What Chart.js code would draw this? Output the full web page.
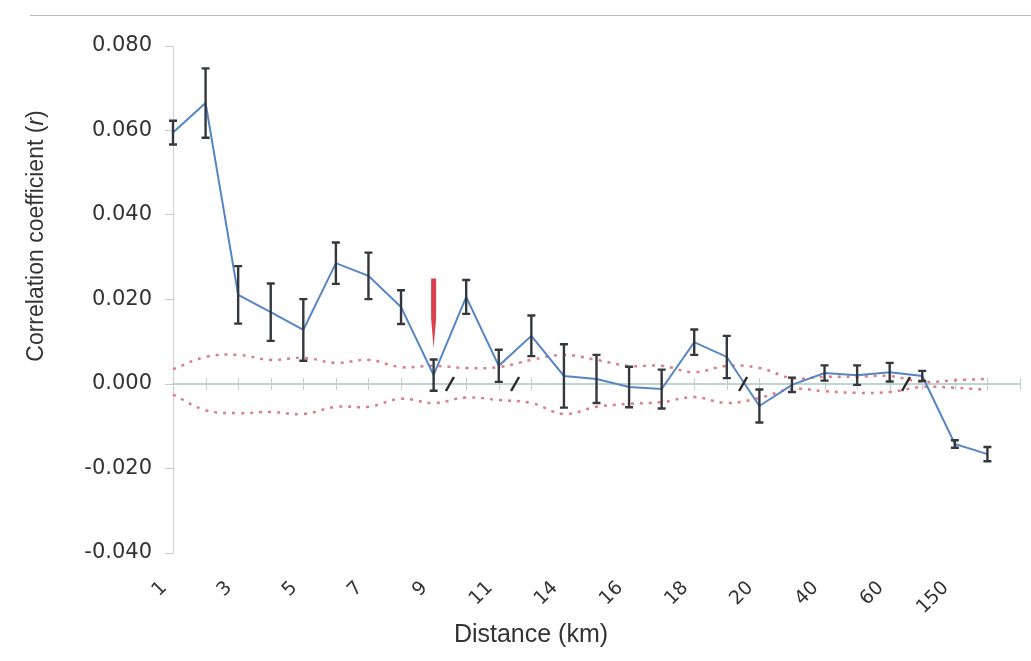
<!DOCTYPE html>
<html>
<head>
<meta charset="utf-8">
<script src="https://cdn.jsdelivr.net/npm/chart.js@4.4.1/dist/chart.umd.min.js"></script>
<style>
  html, body { margin: 0; padding: 0; background: #fff; }
  #wrap { width: 1031px; height: 661px; position: relative; }
</style>
</head>
<body>
<div id="wrap"><canvas id="myChart"></canvas></div>
<script>
// distance classes (km), only every other one gets a label on the axis
const distanceLabels = ['1', '2', '3', '4', '5', '6', '7', '8', '9', '10', '11', '12', '14', '15', '16', '17', '18', '19', '20', '30', '40', '50', '60', '100', '150', '200', ''];

// mean correlation coefficient r per distance class
const meanR = [0.0595, 0.0665, 0.0211, 0.0170, 0.0128, 0.0286, 0.0256, 0.0182, 0.0021, 0.0206, 0.0043, 0.0114, 0.0019, 0.0012, -0.0007, -0.0012, 0.0099, 0.0064, -0.0052, -0.0002, 0.0026, 0.0021, 0.0028, 0.0019, -0.0142, -0.0166];

// error bar half-length
const errR = [0.0028, 0.0082, 0.0068, 0.0068, 0.0073, 0.0049, 0.0055, 0.0040, 0.0037, 0.0040, 0.0038, 0.0048, 0.0075, 0.0057, 0.0048, 0.0046, 0.0030, 0.0050, 0.0039, 0.0017, 0.0018, 0.0023, 0.0022, 0.0012, 0.0009, 0.0017];

// permutation confidence envelope (red dotted lines)
const upperCI = [0.0035, 0.0064, 0.0069, 0.0057, 0.0062, 0.0050, 0.0057, 0.0040, 0.0043, 0.0038, 0.0040, 0.0057, 0.0069, 0.0057, 0.0043, 0.0043, 0.0028, 0.0043, 0.0038, 0.0014, 0.0017, 0.0017, 0.0019, 0.0005, 0.0009, 0.0012];
const lowerCI = [-0.0025, -0.0062, -0.0069, -0.0066, -0.0071, -0.0054, -0.0054, -0.0035, -0.0045, -0.0032, -0.0038, -0.0045, -0.0071, -0.0054, -0.0047, -0.0043, -0.0031, -0.0045, -0.0033, -0.0012, -0.0017, -0.0021, -0.0019, -0.0007, -0.0009, -0.0014];

// axis breaks (between category indices) and the red arrow
const breakPositions = [8.5, 10.5, 17.5, 22.5];
const arrowIndex = 8;
const arrowTop = 0.025;
const arrowNeck = 0.0155;
const arrowTip = 0.0085;

const yMin = -0.04;
const yMax = 0.08;
const yStep = 0.02;

const yTitleParts = ['Correlation coefficient (', 'r', ')'];
const xTitle = 'Distance (km)';

// zero line, axis ticks on it, error bars, breaks, arrow, axis titles
const extrasPlugin = {
    id: 'extras',
    beforeDraw(chart) {
        const ctx = chart.ctx;
        ctx.save();
        ctx.fillStyle = '#fff';
        ctx.fillRect(0, 0, chart.width, chart.height);
        ctx.strokeStyle = '#bdbdbd';
        ctx.lineWidth = 1;
        ctx.beginPath();
        ctx.moveTo(30, 15.5);
        ctx.lineTo(chart.width, 15.5);
        ctx.stroke();
        ctx.restore();
    },
    beforeDatasetsDraw(chart) {
        const ctx = chart.ctx;
        const x = chart.scales.x;
        const y = chart.scales.y;
        const y0 = y.getPixelForValue(0);
        ctx.save();
        ctx.strokeStyle = '#a9c9c1';
        ctx.lineWidth = 1.5;
        ctx.beginPath();
        ctx.moveTo(chart.chartArea.left, y0);
        ctx.lineTo(chart.chartArea.right, y0);
        ctx.stroke();
        ctx.strokeStyle = '#c3caca';
        ctx.lineWidth = 1;
        for (let i = 0; i < distanceLabels.length; i++) {
            const px = Math.round(x.getPixelForValue(i)) + 0.5;
            ctx.beginPath();
            ctx.moveTo(px, y0 - 6);
            ctx.lineTo(px, y0 + 6);
            ctx.stroke();
        }
        ctx.restore();
    },
    afterDatasetsDraw(chart) {
        const ctx = chart.ctx;
        const x = chart.scales.x;
        const y = chart.scales.y;
        ctx.save();
        // error bars
        ctx.strokeStyle = '#33383f';
        ctx.lineWidth = 2.4;
        for (let i = 0; i < meanR.length; i++) {
            const px = x.getPixelForValue(i);
            const top = y.getPixelForValue(meanR[i] + errR[i]);
            const bot = y.getPixelForValue(meanR[i] - errR[i]);
            ctx.beginPath();
            ctx.moveTo(px, top);
            ctx.lineTo(px, bot);
            ctx.moveTo(px - 4, top);
            ctx.lineTo(px + 4, top);
            ctx.moveTo(px - 4, bot);
            ctx.lineTo(px + 4, bot);
            ctx.stroke();
        }
        // axis break marks
        const y0 = y.getPixelForValue(0);
        ctx.strokeStyle = '#2b2b2b';
        ctx.lineWidth = 2.5;
        breakPositions.forEach(b => {
            const px = x.getPixelForValue(b);
            ctx.beginPath();
            ctx.moveTo(px - 4, y0 + 7);
            ctx.lineTo(px + 4, y0 - 7);
            ctx.stroke();
        });
        // red arrow
        const ax = x.getPixelForValue(arrowIndex);
        const aTop = y.getPixelForValue(arrowTop);
        const aNeck = y.getPixelForValue(arrowNeck);
        const aTip = y.getPixelForValue(arrowTip);
        ctx.fillStyle = '#d8414d';
        ctx.beginPath();
        ctx.moveTo(ax - 2.5, aTop);
        ctx.lineTo(ax + 2.5, aTop);
        ctx.lineTo(ax + 2.5, aNeck);
        ctx.lineTo(ax, aTip);
        ctx.lineTo(ax - 2.5, aNeck);
        ctx.closePath();
        ctx.fill();
        ctx.restore();
    },
    afterDraw(chart) {
        const ctx = chart.ctx;
        const area = chart.chartArea;
        ctx.save();
        ctx.fillStyle = '#333';
        ctx.textBaseline = 'middle';
        // y title, with italic r
        const normal = '23px "Liberation Sans", Arial, sans-serif';
        const italic = 'italic 23px "Liberation Sans", Arial, sans-serif';
        const fonts = [normal, italic, normal];
        let total = 0;
        const widths = yTitleParts.map((t, k) => {
            ctx.font = fonts[k];
            const w = ctx.measureText(t).width;
            total += w;
            return w;
        });
        ctx.translate(37, area.top + 190);
        ctx.rotate(-Math.PI / 2);
        let pos = -total / 2;
        ctx.textAlign = 'left';
        yTitleParts.forEach((t, k) => {
            ctx.font = fonts[k];
            ctx.fillText(t, pos, 0);
            pos += widths[k];
        });
        ctx.setTransform(1, 0, 0, 1, 0, 0);
        // x title
        ctx.font = '25px "Liberation Sans", Arial, sans-serif';
        ctx.textAlign = 'center';
        ctx.fillText(xTitle, area.left + 358, chart.height - 26);
        ctx.restore();
    }
};

const ctx = document.getElementById('myChart').getContext('2d');

new Chart(ctx, {
    type: 'line',
    data: {
        labels: distanceLabels,
        datasets: [{
            label: 'r',
            data: meanR,
            borderColor: '#5585c2',
            borderWidth: 2,
            pointRadius: 0,
            tension: 0
        }, {
            label: 'upper',
            data: upperCI,
            borderColor: '#e07b8c',
            borderWidth: 2.5,
            borderDash: [3, 6],
            pointRadius: 0,
            tension: 0.4
        }, {
            label: 'lower',
            data: lowerCI,
            borderColor: '#e07b8c',
            borderWidth: 2.5,
            borderDash: [3, 6],
            pointRadius: 0,
            tension: 0.4
        }]
    },
    options: {
        responsive: true,
        maintainAspectRatio: false,
        animation: false,
        layout: {
            padding: { top: 46, right: 11, bottom: 0, left: 0 }
        },
        scales: {
            x: {
                offset: false,
                grid: { display: false },
                border: { display: false },
                ticks: {
                    autoSkip: false,
                    minRotation: 45,
                    maxRotation: 45,
                    padding: 16,
                    labelOffset: -9,
                    color: '#333',
                    font: { family: 'DejaVu Sans', size: 19 },
                    callback: function (value, index) {
                        return index % 2 === 0 ? distanceLabels[index] : '';
                    }
                },
                afterFit: function (scale) {
                    scale.height = 108;
                    scale.paddingLeft = 0;
                    scale.paddingRight = 0;
                }
            },
            y: {
                min: yMin,
                max: yMax,
                grid: {
                    drawOnChartArea: false,
                    drawTicks: true,
                    tickLength: 8,
                    color: '#c8c8c8'
                },
                border: { display: true, color: '#d0d0d0', width: 1 },
                ticks: {
                    stepSize: yStep,
                    padding: 13,
                    color: '#333',
                    font: { family: 'DejaVu Sans', size: 21 },
                    callback: function (value) {
                        return value.toFixed(3);
                    }
                },
                afterFit: function (scale) {
                    scale.width = 173;
                    scale.paddingTop = 0;
                    scale.paddingBottom = 0;
                }
            }
        },
        plugins: {
            legend: { display: false },
            tooltip: { enabled: false }
        }
    },
    plugins: [extrasPlugin]
});
</script>
</body>
</html>
